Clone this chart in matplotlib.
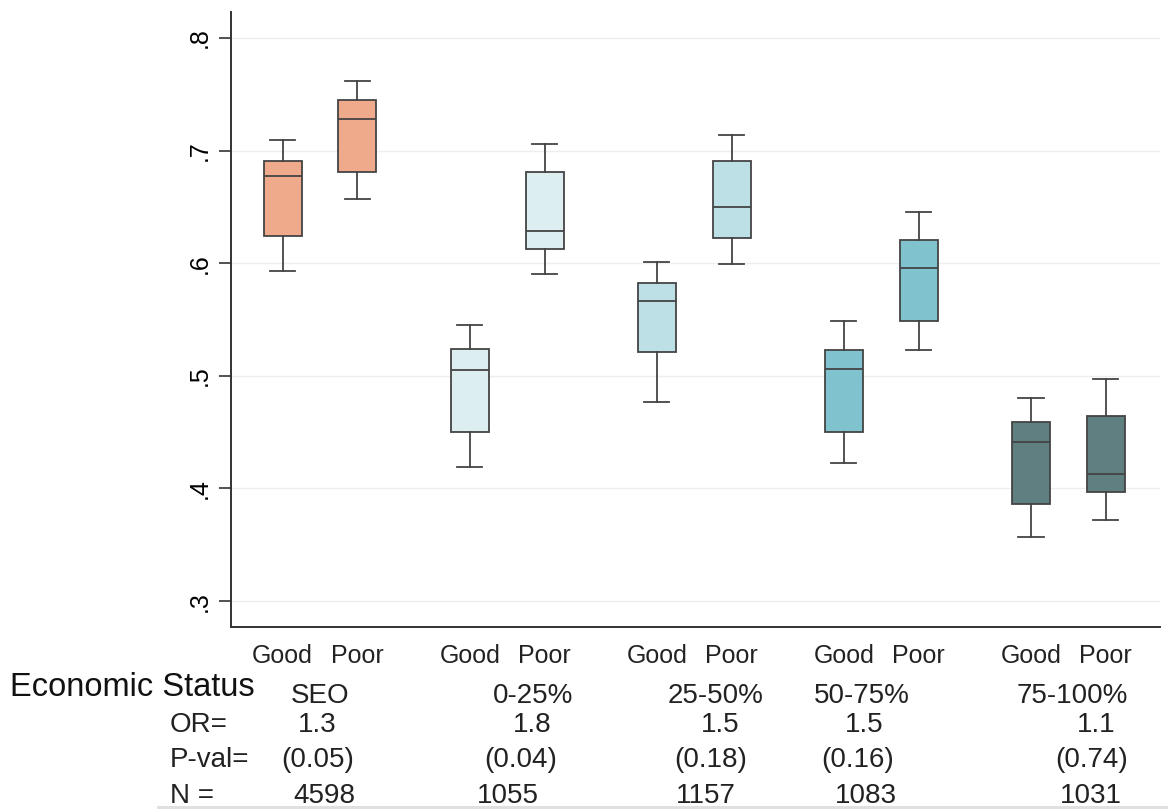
import matplotlib
matplotlib.use("Agg")
import matplotlib.pyplot as plt
import matplotlib.patches as patches
import numpy as np

plt.rcParams['font.family'] = ['Liberation Sans', 'DejaVu Sans']

# data
groups = ['SEO', '0-25%', '25-50%', '50-75%', '75-100%']
odds = ['1.3', '1.8', '1.5', '1.5', '1.1']
pvals = ['(0.05)', '(0.04)', '(0.18)', '(0.16)', '(0.74)']
ns = ['4598', '1055', '1157', '1083', '1031']
colors = ['#EFAA8C', '#DCEEF0', '#BCE0E6', '#80C3CF', '#5F7F81']

# box stats per group: [good, poor]
whislo = [[0.593, 0.657], [0.419, 0.590], [0.477, 0.599], [0.423, 0.523], [0.357, 0.372]]
q1     = [[0.624, 0.681], [0.450, 0.613], [0.521, 0.622], [0.450, 0.549], [0.386, 0.397]]
med    = [[0.677, 0.728], [0.505, 0.629], [0.566, 0.650], [0.506, 0.596], [0.441, 0.413]]
q3     = [[0.691, 0.745], [0.524, 0.681], [0.582, 0.691], [0.523, 0.621], [0.459, 0.464]]
whishi = [[0.709, 0.762], [0.545, 0.706], [0.601, 0.714], [0.549, 0.645], [0.480, 0.497]]
status = ['Good', 'Poor']

fig = plt.figure(figsize=(11.68, 8.09), dpi=100)
ax = fig.add_axes([231/1168, 1 - 627/809, (1160-231)/1168, (627-12)/809])

stats, pos, cols, labels = [], [], [], []
for i in range(len(groups)):
    for j in range(2):
        stats.append(dict(whislo=whislo[i][j], q1=q1[i][j], med=med[i][j],
                          q3=q3[i][j], whishi=whishi[i][j], fliers=[]))
        pos.append(i - 0.2 + 0.4 * j)
        cols.append(colors[i])
        labels.append(status[j])

edge = '#444444'
bp = ax.bxp(stats, positions=pos, widths=0.203, patch_artist=True,
            showfliers=False, capwidths=0.135,
            boxprops=dict(edgecolor=edge, linewidth=1.3),
            medianprops=dict(color=edge, linewidth=1.3),
            whiskerprops=dict(color=edge, linewidth=1.3),
            capprops=dict(color=edge, linewidth=1.3))
for b, c in zip(bp['boxes'], cols):
    b.set_facecolor(c)

ax.set_xlim(-0.476, 4.49)
ax.set_ylim(0.277, 0.823)
ax.set_yticks([0.3, 0.4, 0.5, 0.6, 0.7, 0.8])
ax.set_yticklabels(['.3', '.4', '.5', '.6', '.7', '.8'], rotation=90, va='center')
ax.set_xticks(pos)
ax.set_xticklabels(labels)
ax.tick_params(axis='y', length=9, width=1.2, color='#333333', labelsize=18, pad=5)
ax.tick_params(axis='x', length=0, labelsize=18, pad=12, labelcolor='#222222')
ax.grid(axis='y', color='#eeeeee', linewidth=1)
ax.set_axisbelow(True)
for s in ['top', 'right']:
    ax.spines[s].set_visible(False)
for s in ['left', 'bottom']:
    ax.spines[s].set_color('#333333')
    ax.spines[s].set_linewidth(1.4)

# table of numbers below the chart (figure pixel positions)
W, H = 1168.0, 809.0
row_y = [696, 725, 760, 796]
fig.text(10/W, 1 - 687/H, 'Economic Status', fontsize=23.5, ha='left', va='center', color='#111111')
fig.text(170/W, 1 - row_y[1]/H, 'OR=', fontsize=20, ha='left', va='center', color='#222222')
fig.text(170/W, 1 - row_y[2]/H, 'P-val=', fontsize=20, ha='left', va='center', color='#222222')
fig.text(170/W, 1 - row_y[3]/H, 'N =', fontsize=20, ha='left', va='center', color='#222222')

name_x = [320, 533, 716, 862, 1072]
or_x = [317, 532, 720, 864, 1096]
p_x = [318, 521, 711, 858, 1092]
n_x = [324, 508, 706, 866, 1091]
for i in range(len(groups)):
    fig.text(name_x[i]/W, 1 - row_y[0]/H, groups[i], fontsize=20, ha='center', va='center', color='#222222')
    fig.text(or_x[i]/W, 1 - row_y[1]/H, odds[i], fontsize=20, ha='center', va='center', color='#222222')
    fig.text(p_x[i]/W, 1 - row_y[2]/H, pvals[i], fontsize=20, ha='center', va='center', color='#222222')
    fig.text(n_x[i]/W, 1 - row_y[3]/H, ns[i], fontsize=20, ha='center', va='center', color='#222222')

# faint grey strip along the bottom edge
fig.patches.append(patches.Rectangle((157/W, 0), 1 - 157/W, 3/H, transform=fig.transFigure,
                                     facecolor='#e0e0e0', edgecolor='none'))

plt.savefig('out.png', dpi=100)
